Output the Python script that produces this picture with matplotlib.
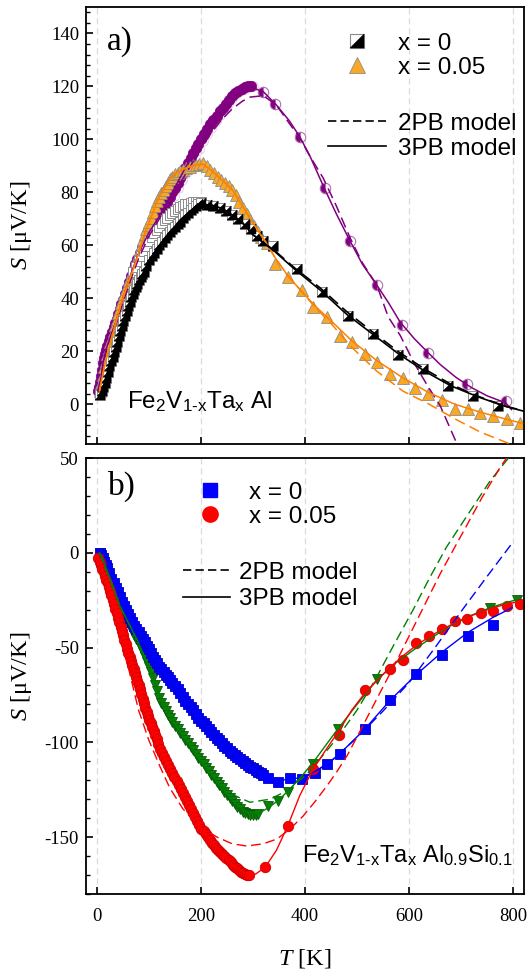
import numpy as np
import matplotlib
matplotlib.use('Agg')
import matplotlib.pyplot as plt
from matplotlib.ticker import MultipleLocator, AutoMinorLocator
from matplotlib.lines import Line2D
from matplotlib.path import Path
from matplotlib.legend_handler import HandlerTuple

plt.rcParams['axes.unicode_minus'] = False
plt.rcParams['mathtext.fontset'] = 'custom'
plt.rcParams['mathtext.rm'] = 'Liberation Sans'
plt.rcParams['mathtext.it'] = 'Liberation Serif:italic'
plt.rcParams['mathtext.default'] = 'regular'

SERIF = 'Liberation Serif'
SANS = 'Liberation Sans'

# ---------------- panel a) data ----------------
# x = 0 (black half squares)
a0_T = [6, 9, 12, 15, 18, 21, 24, 27, 30, 33, 36, 39, 42, 45, 48, 51, 54, 57, 60, 63, 66, 69, 72, 75, 78,
        81, 84, 87, 90, 95, 100, 105, 110, 115, 120, 125, 130, 135, 140, 145, 150, 155, 160, 165, 170,
        175, 180, 185, 190, 195, 200, 212, 224, 236, 248, 260, 272, 284, 296, 308, 320,
        339, 384, 433, 483, 531, 579, 627, 675, 723, 771]
a0_S = [3.5, 5, 6.5, 8, 10, 12, 14.3, 16.2, 18, 19.8, 21.6, 23.7, 25.7, 27.7, 29.7, 31.6, 33.4, 35.2, 37,
        38.8, 40.4, 41.7, 43, 44.3, 45.6, 46.9, 48, 49, 50, 52.3, 54.3, 55.8, 57.2, 58.7, 60, 61.3, 62.6,
        63.8, 65, 66, 67, 68, 69, 70.2, 71.3, 72.4, 73.3, 74.2, 75, 75.6, 76, 75.4, 74.7, 74, 72.8,
        71.4, 70, 68, 66, 63.6, 61.5,
        59.6, 51, 42.5, 33.4, 26.6, 18.6, 13.3, 7, 3, -0.7]
# x = 0, second run (open squares)
a0b_T = [70, 75, 80, 85, 90, 95, 100, 105, 110, 115, 120, 125, 130, 135, 140, 145, 150, 155, 160, 165,
         170, 175, 180, 185, 190, 195, 200]
a0b_S = [50, 52, 54, 56, 58, 59.8, 61.5, 63, 64.5, 65.8, 67, 68.3, 69.5, 70.5, 71.5, 72.3, 73, 73.8,
         74.5, 75, 75.5, 75.8, 76, 76.3, 76.5, 76.5, 76.5]
# x = 0.05 (orange triangles)
a5_T = [5, 8, 11, 14, 17, 20, 23, 26, 29, 32, 35, 38, 41, 44, 47, 50, 53, 56, 59, 62, 65, 68, 71, 74, 77,
        80, 83, 86, 89, 92, 95, 98, 101, 104, 108, 112, 116, 120, 124, 128, 132, 136, 140, 145, 150,
        155, 160, 166, 172, 178, 184, 190, 197, 204, 211, 218, 225, 232, 239, 246, 253, 260, 267, 274,
        281, 288, 295, 302, 309, 316, 327,
        342, 367, 394, 416, 442, 467, 490, 515, 538, 563, 589, 611, 637, 663, 688, 713, 736, 762, 788, 813]
a5_S = [5, 8, 11, 14, 16.5, 19, 21.2, 23.4, 25.5, 27.7, 30, 32.2, 34.3, 36.3, 38.3, 40, 41.7, 43.5, 45.3,
        47, 48.5, 50, 51.6, 53.5, 55.3, 57, 58.8, 60.6, 62.5, 64.3, 66, 67.5, 69, 70.5, 72.6, 74.8, 76.8,
        78.3, 79.7, 81, 82.4, 83.7, 85, 86, 87, 87.5, 88, 88.6, 89.2, 89.7, 90.2, 90.5, 90.8, 91, 89.8,
        88.5, 87.2, 86, 84.7, 83.6, 82.3, 81, 79, 76.5, 74, 71.8, 69.6, 67.3, 65.2, 63.3, 61,
        53, 48, 43, 36.7, 32.9, 25.9, 23.4, 19, 15.8, 11.4, 10.1, 6.3, 3.8, 1.6, -1.6, -1.9, -3.2, -4.4,
        -5.7, -7.2]
# third sample (purple half circles); the first N_DENSE_P points form the dense low-T run
ap_T = [2, 4, 6, 8, 10, 12, 14, 16, 18, 20, 23, 26, 29, 32, 35, 38, 41, 44, 47, 50, 54, 58, 62, 66, 70,
        74, 78, 82, 86, 90, 94, 98, 102, 106, 110, 115, 120, 125, 130, 135, 140, 145, 150, 155, 160, 165,
        170, 175, 180, 185, 190, 195, 200, 206, 212, 218, 224, 230, 236, 242, 248, 254, 260, 266, 272,
        278, 284, 290, 296,
        319, 342, 390, 438, 487, 538, 587, 637, 711, 786]
ap_S = [5, 6.5, 8.5, 10.5, 13, 15.5, 17.5, 19, 20.5, 22, 24, 25.5, 27.3, 29, 30.6, 32.2, 34, 35.8, 37.7,
        39.5, 41.8, 44, 46.3, 48.5, 50.7, 52.8, 55, 57, 59, 60.8, 62.4, 63.8, 65.2, 66.2, 67.2, 69, 71,
        72.8, 74.6, 76.4, 78.2, 80, 81.8, 83.7, 85.6, 87.4, 89.2, 91, 92.9, 94.8, 96.6, 98.4, 100, 102,
        104, 105.8, 107.4, 109, 110.6, 112, 113.5, 115, 116.3, 117.4, 118.3, 119.1, 119.7, 120, 120,
        118, 113.5, 101, 81.7, 61.5, 45, 30, 19.4, 7.6, 1.1]
N_DENSE_P = 69
apb_T = [100, 108, 116, 124, 132, 140, 148, 156, 164, 172, 180, 188, 196, 204, 212, 220, 228, 236, 244,
         252, 260, 268, 276, 284, 292, 300]
apb_S = [61, 63.5, 66.5, 69.5, 72.5, 75.5, 78.5, 81.5, 84.5, 87.5, 90.5, 93.5, 96.5, 99.3, 102, 104.5,
         107, 109.2, 111.5, 113.5, 115.5, 117, 118.3, 119.2, 119.8, 120]

# model curves, panel a)
m0_T = [5, 15, 25, 35, 50, 65, 80, 100, 120, 140, 160, 180, 200, 220, 240, 260, 280, 300, 320, 340, 380,
        430, 480, 530, 580, 630, 680, 730, 780, 822]
m0_3PB = [2, 8.5, 15, 21, 31, 39.5, 46, 54, 60, 65, 69.5, 73, 75.5, 75.2, 74, 71.5, 68.5, 64, 61, 58, 51,
          43, 34, 26.5, 19, 12.5, 7, 3, -0.5, -2.7]
m0_2PB = [2, 8.5, 15, 21, 31, 39.5, 46, 54, 60, 65, 69.5, 73, 75.5, 75.2, 74, 71.5, 68.5, 64, 61, 58.3,
          51.5, 43.8, 35, 27.3, 19.8, 13.3, 7.6, 3.2, -0.4, -2.6]
m5_T = [5, 12, 20, 31, 45, 60, 70, 85, 96, 105, 115, 128, 140, 150, 160, 175, 190, 204, 220, 237, 250, 262,
        281, 300, 313, 327, 342, 367, 394, 420, 450, 490, 538, 588, 637, 688, 737, 788, 818]
m5_3PB = [5, 12, 19, 27, 37, 46, 51, 60, 66.5, 71, 76.5, 81, 85, 87, 88.2, 89.5, 90.4, 90.6, 88.3, 85.2,
          83, 80.5, 74.5, 68.5, 64.5, 60.5, 55.5, 48.5, 42.5, 37, 31.5, 24, 16.5, 10, 4.5, 0, -3, -5.7, -7.2]
m5_2PB = [5, 12, 19, 27, 37, 46, 51, 60, 66.5, 71, 76.5, 81, 85, 87, 88.2, 89.5, 90.4, 90.6, 88.3, 85.2,
          83, 80.5, 74.5, 68.5, 64.5, 60.5, 55.5, 48.5, 42.5, 36.5, 30.5, 21.5, 12.5, 5, 0.2, -5.5, -10.5,
          -14.5, -16.5]
mp_T = [2, 8, 12, 18, 25, 38, 50, 65, 80, 100, 120, 140, 160, 180, 200, 220, 240, 260, 280, 295, 320, 345,
        370, 390, 410, 435, 460, 487, 510, 538, 560, 583, 610, 634, 660, 690, 720, 750, 786, 797]
mp_3PB = [5, 10, 16, 21, 25, 32, 40, 49, 57, 64.8, 71, 78.2, 85.6, 92.9, 100, 105.5, 111, 116, 119.2,
          119.8, 118, 113, 107, 101, 93.5, 82.5, 72, 61.5, 53, 45, 38.5, 31, 24.8, 20, 15, 10.2, 6.3, 3.2,
          0.5, -2]
mp_2PB = [5, 9.5, 15, 20, 24, 31, 38.5, 47, 55, 63.5, 70, 77, 83.5, 90, 96.5, 102.5, 107.5, 111.5, 114.5,
          116, 116.5, 113, 106, 100.6, 93.5, 85.4, 75, 62.7, 53.5, 45, 33, 26, 15.5, 7.5, -0.6, -14, -25,
          -35, -45, -48]

# ---------------- panel b) data ----------------
b0_T = [5, 8, 11, 14, 17, 20, 24, 28, 32, 36, 40, 44, 48, 52, 56, 60, 64, 68, 72, 76, 80, 84, 88, 92, 96,
        100, 104, 108, 112, 116, 120, 124, 128, 132, 136, 140, 145, 150, 155, 160, 165, 170, 175, 180,
        185, 190, 195, 200, 205, 210, 215, 220, 225, 230, 235, 240, 245, 250, 255, 260, 265, 270, 275,
        280, 285, 290, 295, 300, 305, 310, 315, 320,
        329, 349, 371, 394, 419, 442, 467, 515, 563, 613, 663, 713, 762]
b0_S = [0, -1, -2.8, -4.6, -6.3, -8, -10.8, -13.6, -16.2, -18.4, -20.7, -23.3, -25.8, -28, -30, -32.2,
        -34.2, -36.3, -38.4, -40.4, -42, -43.7, -45.4, -47.3, -49.2, -51, -53, -54.8, -56.6, -58.4, -60,
        -61.5, -63, -64.4, -65.7, -67, -68.8, -70.4, -72, -74, -76, -78, -79.7, -81.3, -83, -85, -87,
        -88.6, -90, -91.5, -93, -94.7, -96.3, -97.8, -99, -100.5, -102, -103.2, -104.4, -105.6, -106.7,
        -107.8, -108.9, -110, -111, -111.8, -112.8, -113.7, -114.6, -115.5, -116.3, -117,
        -119, -121, -119, -119.5, -116, -111.6, -106, -93.2, -77.4, -64.2, -53.7, -43.7, -37.9]
bg_T = [5, 8, 11, 14, 17, 20, 24, 28, 32, 36, 40, 44, 48, 52, 56, 60, 64, 68, 72, 76, 80, 84, 88, 92, 96,
        100, 104, 108, 112, 116, 120, 124, 128, 132, 136, 140, 145, 150, 155, 160, 165, 170, 175, 180,
        185, 190, 195, 200, 205, 210, 215, 220, 225, 230, 235, 240, 245, 250, 255, 260, 265, 270, 275,
        280, 285, 290, 295, 300, 305, 310,
        329, 349, 368, 416, 463, 538, 756, 808]
bg_S = [0, -1.5, -3.2, -5, -7.3, -9.6, -12.7, -15.8, -18.8, -21.8, -24.9, -28, -30.3, -32.6, -34.8, -36.9,
        -39, -41, -43.2, -45.3, -47.6, -50, -52.6, -55.2, -57.8, -60.4, -63, -66, -69.5, -73, -76.5,
        -79.5, -81.5, -83.5, -85.5, -87.3, -89.4, -91.3, -93.2, -95, -96.8, -98.6, -100.5, -102.4,
        -104.3, -106.2, -108, -109.8, -111.6, -113.5, -115.3, -117.1, -118.9, -120.7, -122.5, -124.3,
        -126, -127.8, -129.5, -131, -132.5, -134, -135.3, -136.5, -137.4, -138, -138.3, -138.4, -138.3,
        -138,
        -133.6, -131, -126, -111.6, -93, -66.8, -29, -24.7]
b5_T = [3, 5.5, 8, 10.5, 13, 15.5, 18, 20.5, 23, 25.5, 28, 30.5, 33, 35.5, 38, 40.5, 43, 45.5, 48, 50.5,
        53, 55.5, 58, 60.5, 63, 65.5, 68, 70.5, 73, 75.5, 78, 80.5, 83, 85.5, 88, 90.5, 93, 95.5, 98,
        100.5, 103, 106, 109, 112, 115, 118, 121, 125, 129, 133, 137, 141, 145, 149, 153, 157, 161, 165,
        169, 173, 177, 181, 185, 189, 193, 197, 201, 205, 209, 213, 217, 221, 225, 229, 233, 237, 241,
        245, 249, 253, 257, 261, 265, 269, 273, 277, 281, 285, 289, 293,
        323, 367, 416, 465, 515, 563, 589, 613, 638, 663, 688, 712, 738, 762, 788, 813]
b5_S = [-3, -4.8, -6.6, -8.4, -10.3, -12.2, -14.2, -16.1, -18, -20, -22.4, -24.8, -27.2, -29.5, -31.9,
        -34.3, -36.6, -39, -41.3, -43.6, -45.9, -48.2, -50.5, -52.8, -55, -57.2, -59.4, -61.5, -63.6,
        -65.7, -67.8, -69.9, -72, -74.4, -76.9, -79.5, -82, -84.2, -86.2, -88.2, -89.9, -91.8, -93.9,
        -96.2, -98.4, -101, -103.5, -105.7, -107.8, -109.8, -111.8, -113.9, -116, -118.1, -120.3,
        -122.4, -124.5, -126.6, -128.8, -131, -133.1, -135.2, -137.3, -139.4, -141.5, -143.6, -145.5,
        -147, -148.5, -150, -151.5, -153, -154.4, -155.6, -156.7, -157.8, -158.9, -160, -161.1, -162.2,
        -163.3, -164.5, -165.5, -166.5, -167.5, -168.4, -169, -169.5, -169.8, -169.8,
        -166, -144, -114, -96, -72.5, -61.2, -56.3, -47.5, -43.7, -40, -35.8, -34.9, -31.8, -30.5, -27.9,
        -26.8]

# model curves, panel b)
n0_T = [5, 20, 38, 63, 89, 115, 140, 170, 198, 231, 262, 294, 320, 350, 371, 394, 419, 442, 467, 515, 563,
        613, 663, 713, 762, 798]
n0_3PB = [-0.5, -8, -19.5, -33.7, -45.8, -58, -67, -78, -88, -98, -106, -112.6, -117, -120, -119.5,
          -118.5, -115.5, -111.5, -106, -93, -78, -64.5, -52.5, -42, -34, -29]
n0_2PB_T = [5, 20, 38, 63, 89, 115, 140, 170, 198, 231, 262, 294, 320, 350, 380, 410, 450, 500, 550, 600,
            650, 700, 750, 798]
n0_2PB = [-0.5, -8, -19.5, -33.7, -45.8, -58, -67, -78, -88, -98, -106, -113, -118.5, -121.5, -121, -117,
          -110, -97.5, -83.5, -68.5, -50, -31, -12.5, 5]
ng_T = [5, 12, 44, 77, 102, 127, 165, 198, 231, 262, 290, 310, 330, 349, 368, 390, 416, 440, 463, 500,
        538, 575, 615, 673, 715, 756, 790, 808]
ng_3PB = [0, -3.7, -28, -45.8, -61.6, -80, -96.8, -109.5, -121, -131, -137, -137.5, -134.5, -130.5,
          -125.5, -119, -110.5, -101.5, -93, -80, -67, -58, -50, -39.5, -33.5, -29, -26, -24.7]
ng2_T = [5, 44, 77, 102, 127, 165, 198, 231, 256, 294, 333, 371, 410, 461, 500, 535, 570, 608, 640, 672,
         715, 756, 800]
ng_2PB = [0, -28, -45.8, -62, -79, -96, -108.5, -120, -127, -131.6, -130, -124.7, -115, -98, -83, -67,
          -49, -30, -13, 3, 21, 38, 53]
n5_T = [3, 25, 44, 63, 83, 100, 121, 154, 198, 231, 262, 288, 305, 323, 345, 367, 390, 416, 440, 465, 490,
        515, 540, 565, 590, 613, 638, 663, 688, 712, 738, 762, 788, 815]
n5_3PB = [-3, -19.5, -37, -55, -72, -88, -103.5, -121, -144, -156, -165, -169.5, -169.5, -166, -157, -144,
          -128, -114, -104, -94, -83, -74, -67, -60, -54, -49, -44.5, -40.5, -37, -34, -31.3, -29, -27,
          -25.5]
n5_2PB_T = [0, 20, 40, 60, 80, 100, 120, 140, 165, 200, 231, 260, 288, 320, 346, 370, 396, 420, 442, 460,
            481, 506, 540, 580, 620, 660, 700, 740, 775, 800]
n5_2PB = [-1, -17, -37, -60, -83, -99, -112, -124, -135, -145, -150, -153.5, -154.7, -153.5, -151, -146,
          -139, -131, -123, -116, -107, -94, -76, -55, -33, -11, 9, 29, 45, 55]

# ---------------- figure ----------------
fig = plt.figure(figsize=(5.29, 9.71), dpi=100)
axA = fig.add_axes([86 / 529, 1 - 444 / 971, 438 / 529, 437 / 971])
axB = fig.add_axes([86 / 529, 1 - 894 / 971, 438 / 529, 436 / 971])

tri = Path([(-1, -1), (1, -1), (1, 1), (-1, -1)],
           [Path.MOVETO, Path.LINETO, Path.LINETO, Path.CLOSEPOLY])

DASH = (0, (7, 3.5))
PURPLE = '#800080'
ORANGE_F = '#f9a825'
ORANGE_L = '#ff8000'

for ax in (axA, axB):
    ax.set_xlim(-21, 821)
    ax.xaxis.set_major_locator(MultipleLocator(200))
    ax.grid(True, axis='x', which='major', color='#dcdcdc', linestyle=(0, (5, 3)), linewidth=0.9)
    ax.set_axisbelow(True)
    for s in ax.spines.values():
        s.set_linewidth(1.3)
    ax.tick_params(axis='both', which='both', direction='in', top=False, right=False)
    ax.tick_params(axis='x', which='major', length=5, width=1.2, pad=10, labelsize=13.5)
    ax.tick_params(axis='y', which='major', length=5, width=1.2, pad=5, labelsize=13.5)
    ax.tick_params(axis='y', which='minor', length=3, width=1.0)
    for lab in ax.get_xticklabels() + ax.get_yticklabels():
        lab.set_fontfamily(SERIF)
    ax.set_ylabel(r'$\mathit{S}$ [μV/K]', fontfamily=SERIF, fontsize=17.5)
    ax.yaxis.set_label_coords(-0.118, 0.5)

# ---- panel a
axA.set_ylim(-15, 150)
axA.yaxis.set_major_locator(MultipleLocator(20))
axA.yaxis.set_minor_locator(AutoMinorLocator(5))
axA.tick_params(axis='x', labelbottom=False)

axA.plot(apb_T, apb_S, ls='none', marker='o', ms=7, mfc='none', mec='#e2c4e2', mew=0.6, zorder=2)
axA.plot(ap_T[:N_DENSE_P], ap_S[:N_DENSE_P], ls='none', marker='o', ms=7.5, mfc=PURPLE,
         mec=PURPLE, mew=0.5, zorder=2)
axA.plot(ap_T[N_DENSE_P:], ap_S[N_DENSE_P:], ls='none', marker='o', ms=7.5, fillstyle='left',
         mfc=PURPLE, mfcalt='white', mec='#b070b0', mew=0.8, zorder=2)
axA.plot(a5_T, a5_S, ls='none', marker='^', ms=8, mfc=ORANGE_F, mec='#8c8c8c', mew=0.6, zorder=2)
axA.plot(a0b_T, a0b_S, ls='none', marker='s', ms=6.5, mfc='white', mec='#8c8c8c', mew=0.7, zorder=2)
axA.plot(a0_T, a0_S, ls='none', marker='s', ms=7, mfc='white', mec='#8c8c8c', mew=0.7, zorder=2)
axA.plot(a0_T, a0_S, ls='none', marker=tri, ms=7, mfc='black', mec='black', mew=0.3, zorder=2)

axA.plot(mp_T, mp_2PB, color=PURPLE, lw=1.1, ls=DASH, zorder=3)
axA.plot(mp_T, mp_3PB, color=PURPLE, lw=1.1, zorder=3)
axA.plot(m5_T, m5_2PB, color=ORANGE_L, lw=1.1, ls=DASH, zorder=3)
axA.plot(m5_T, m5_3PB, color=ORANGE_L, lw=1.1, zorder=3)
axA.plot(m0_T, m0_2PB, color='black', lw=1.2, ls=DASH, zorder=3)
axA.plot(m0_T, m0_3PB, color='black', lw=1.2, zorder=3)

hA0 = (Line2D([], [], ls='none', marker='s', ms=10, mfc='white', mec='#8c8c8c', mew=0.8),
       Line2D([], [], ls='none', marker=tri, ms=10, mfc='black', mec='black', mew=0.3))
hA5 = Line2D([], [], ls='none', marker='^', ms=11, mfc=ORANGE_F, mec='#8c8c8c', mew=0.6)
legA1 = axA.legend([hA0, hA5], ['x = 0', 'x = 0.05'], loc='upper left',
                   bbox_to_anchor=(0.591, 0.941), frameon=False, borderpad=0, borderaxespad=0,
                   handlelength=1.0, handletextpad=1.2, labelspacing=0.08,
                   prop={'family': SANS, 'size': 17.5},
                   handler_map={tuple: HandlerTuple(ndivide=1, pad=0)})
axA.add_artist(legA1)
hd = Line2D([], [], color='black', lw=1.2, ls=(0, (5, 2.5)))
hs = Line2D([], [], color='black', lw=1.2)
axA.legend([hd, hs], ['2PB model', '3PB model'], loc='upper left',
           bbox_to_anchor=(0.5525, 0.7576), frameon=False, borderpad=0, borderaxespad=0,
           handlelength=2.4, handletextpad=0.5, labelspacing=0.12,
           prop={'family': SANS, 'size': 17.5})

axA.text(0.048, 0.92, 'a)', transform=axA.transAxes, fontfamily=SERIF, fontsize=24,
         ha='left', va='center')
axA.text(0.094, 0.082, 'Fe$_2$V$_{1‐x}$Ta$_x$ Al', transform=axA.transAxes, fontfamily=SANS,
         fontsize=17.5, ha='left', va='baseline')

# ---- panel b
axB.set_ylim(-180, 50)
axB.yaxis.set_major_locator(MultipleLocator(50))
axB.yaxis.set_minor_locator(AutoMinorLocator(5))

axB.plot(bg_T, bg_S, ls='none', marker='v', ms=7.5, mfc='#0a800a', mec='#075a07', mew=0.6, zorder=2)
axB.plot(b0_T, b0_S, ls='none', marker='s', ms=6.5, mfc='#0000ff', mec='#0000c8', mew=0.6, zorder=2)
axB.plot(b5_T, b5_S, ls='none', marker='o', ms=7.5, mfc='#ff0000', mec='#c80000', mew=0.6, zorder=2)

axB.plot(n0_2PB_T, n0_2PB, color='#0000ff', lw=1.0, ls=DASH, zorder=3)
axB.plot(n0_T, n0_3PB, color='#0000ff', lw=1.0, zorder=3)
axB.plot(ng2_T, ng_2PB, color='#008000', lw=1.0, ls=DASH, zorder=3)
axB.plot(ng_T, ng_3PB, color='#008000', lw=1.0, zorder=3)
axB.plot(n5_2PB_T, n5_2PB, color='#ff0000', lw=1.0, ls=DASH, zorder=3)
axB.plot(n5_T, n5_3PB, color='#ff0000', lw=1.0, zorder=3)

hB0 = Line2D([], [], ls='none', marker='s', ms=10, mfc='#0000ff', mec='#0000ff')
hB5 = Line2D([], [], ls='none', marker='o', ms=11, mfc='#ff0000', mec='#ff0000')
legB1 = axB.legend([hB0, hB5], ['x = 0', 'x = 0.05'], loc='upper left',
                   bbox_to_anchor=(0.2557, 0.946), frameon=False, borderpad=0, borderaxespad=0,
                   handlelength=1.0, handletextpad=1.1, labelspacing=0.08,
                   prop={'family': SANS, 'size': 17.5})
axB.add_artist(legB1)
axB.legend([hd, hs], ['2PB model', '3PB model'], loc='upper left',
           bbox_to_anchor=(0.2215, 0.7626), frameon=False, borderpad=0, borderaxespad=0,
           handlelength=1.93, handletextpad=0.37, labelspacing=0.2,
           prop={'family': SANS, 'size': 17.5})

axB.text(0.05, 0.935, 'b)', transform=axB.transAxes, fontfamily=SERIF, fontsize=24,
         ha='left', va='center')
axB.text(0.493, 0.073, 'Fe$_2$V$_{1‐x}$Ta$_x$ Al$_{0.9}$Si$_{0.1}$', transform=axB.transAxes,
         fontfamily=SANS, fontsize=17, ha='left', va='baseline')

axB.set_xlabel(r'$\mathit{T}$ [K]', fontfamily=SERIF, fontsize=17.5)
axB.xaxis.set_label_coords(0.5, -0.122)

fig.savefig('out.png', dpi=100)
